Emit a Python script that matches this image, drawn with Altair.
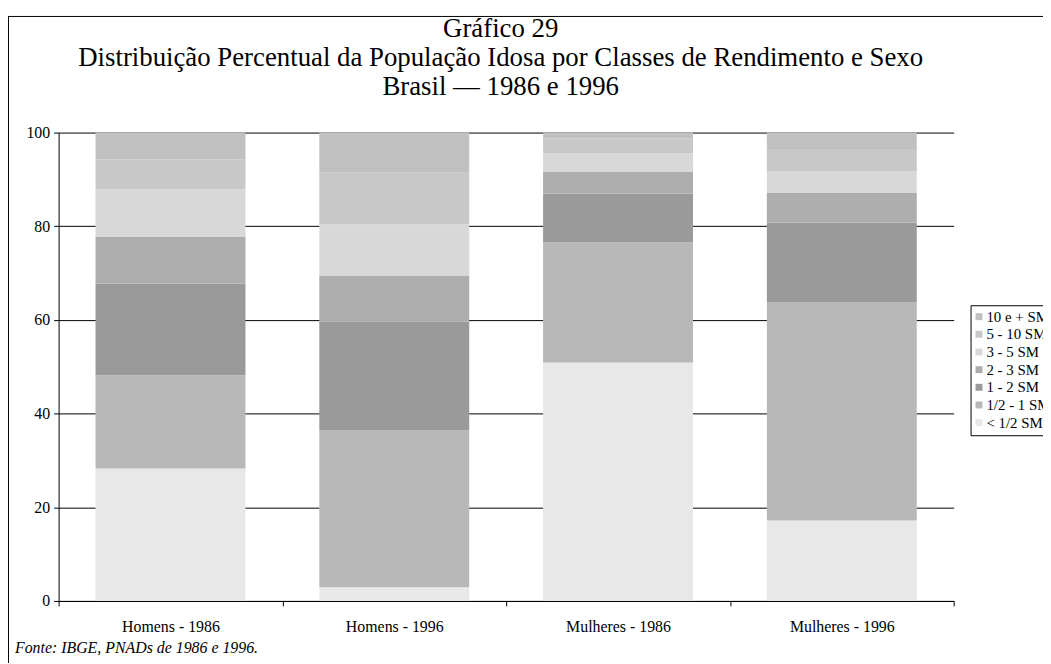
import altair as alt
import pandas as pd

categories = ["Homens - 1986", "Homens - 1996", "Mulheres - 1986", "Mulheres - 1996"]
classes = ["< 1/2 SM", "1/2 - 1 SM", "1 - 2 SM", "2 - 3 SM", "3 - 5 SM", "5 - 10 SM", "10 e + SM"]
homens_1986 = [28.3, 19.9, 19.5, 10.1, 10.1, 6.4, 5.7]
homens_1996 = [2.9, 33.5, 23.2, 9.9, 10.9, 11.0, 8.6]
mulheres_1986 = [50.9, 25.7, 10.4, 4.7, 3.9, 3.2, 1.2]
mulheres_1996 = [17.2, 46.6, 17.0, 6.3, 4.6, 4.8, 3.5]
series = [homens_1986, homens_1996, mulheres_1986, mulheres_1996]

title_lines = ["Gráfico 29",
               "Distribuição Percentual da População Idosa por Classes de Rendimento e Sexo",
               "Brasil — 1986 e 1996"]
source_note = "Fonte: IBGE, PNADs de 1986 e 1996."

legend_order = classes[::-1]
greys = ["#c0c0c0", "#c8c8c8", "#d8d8d8", "#adadad", "#9a9a9a", "#b8b8b8", "#e8e8e8"]

rows = []
for cat, vals in zip(categories, series):
    for i, (cl, v) in enumerate(zip(classes, vals)):
        rows.append({"categoria": cat, "classe": cl, "valor": v, "ordem": i})
df = pd.DataFrame(rows)

FONT = "Liberation Serif"

bars = alt.Chart(df).mark_bar(strokeWidth=0, width=alt.RelativeBandSize(0.67)).encode(
    x=alt.X("categoria:N", sort=categories, title=None,
            scale=alt.Scale(paddingInner=0, paddingOuter=0),
            axis=alt.Axis(labelAngle=0, tickBand="extent", tickSize=5, tickColor="black",
                          domainColor="black", labelFont=FONT, labelFontSize=16,
                          labelColor="black", labelPadding=13)),
    y=alt.Y("valor:Q", stack="zero", title=None,
            scale=alt.Scale(domain=[0, 100]),
            axis=alt.Axis(values=[0, 20, 40, 60, 80, 100], grid=True, gridColor="black",
                          gridOpacity=1, tickSize=5, tickColor="black", domainColor="black",
                          labelFont=FONT, labelFontSize=16, labelColor="black", labelPadding=4)),
    color=alt.Color("classe:N", scale=alt.Scale(domain=legend_order, range=greys),
                    legend=alt.Legend(title=None, orient="none", legendX=919, legendY=174,
                                      symbolType="square", symbolSize=49, symbolStrokeWidth=0,
                                      symbolOffset=-3,
                                      labelFont=FONT, labelFontSize=15, labelColor="black",
                                      strokeColor="black", padding=4, rowPadding=1.8,
                                      labelOffset=0, labelLimit=300)),
    order=alt.Order("ordem:Q", sort="ascending"),
)

deco = alt.Data(values=[{"a": 1}])
frame_top = alt.Chart(deco).mark_rule(color="black", strokeWidth=1).encode(
    x=alt.value(-51), x2=alt.value(1100), y=alt.value(-117))
frame_left = alt.Chart(deco).mark_rule(color="black", strokeWidth=1).encode(
    x=alt.value(-50.5), y=alt.value(-117), y2=alt.value(600))

title_layers = []
for line, ypos in zip(title_lines, [-96, -67, -38]):
    title_layers.append(
        alt.Chart(deco).mark_text(font=FONT, fontSize=27, align="center",
                                  baseline="alphabetic", color="black").encode(
            x=alt.value(445.5), y=alt.value(ypos), text=alt.value(line)))

fonte = alt.Chart(deco).mark_text(font=FONT, fontSize=16, fontStyle="italic", align="left",
                                  baseline="alphabetic", color="black").encode(
    x=alt.value(-44), y=alt.value(524), text=alt.value(source_note))

chart = alt.layer(bars, frame_top, frame_left, *title_layers, fonte).properties(
    width=902, height=472,
    autosize=alt.AutoSizeParams(type="none"),
    padding={"left": 51, "top": 123, "right": 90, "bottom": 60},
).configure_view(stroke=None).configure_axis(domainWidth=1, gridWidth=1)

chart.save("out.html", embed_options={"renderer": "svg", "actions": False})
